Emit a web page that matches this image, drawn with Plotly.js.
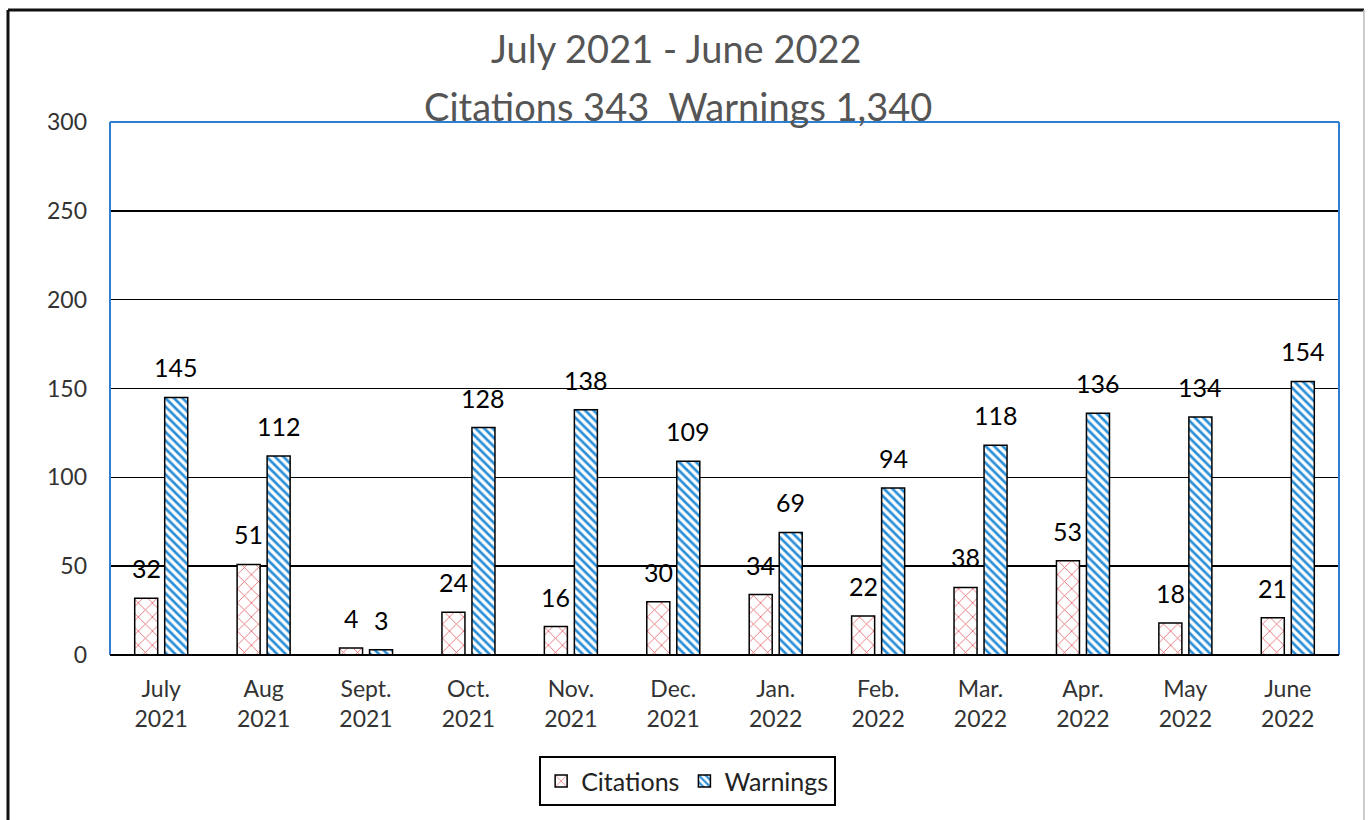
<!DOCTYPE html>
<html>
<head>
<meta charset="utf-8">
<script src="https://cdn.plot.ly/plotly-3.0.1.min.js"></script>
<style>html,body{margin:0;padding:0;background:#fff;}#chart{width:1369px;height:820px;}</style>
</head>
<body>
<div id="chart"></div>
<script>
const categories = ["July<br>2021","Aug<br>2021","Sept.<br>2021","Oct.<br>2021","Nov.<br>2021","Dec.<br>2021","Jan.<br>2022","Feb.<br>2022","Mar.<br>2022","Apr.<br>2022","May<br>2022","June<br>2022"];
const citations = [32,51,4,24,16,30,34,22,38,53,18,21];
const warnings = [145,112,3,128,138,109,69,94,118,136,134,154];
const titleLine1 = "July 2021 - June 2022";
const titleLine2 = "Citations 343  Warnings 1,340";

const FONT = "Lato, 'Open Sans', sans-serif";

const traces = [
  {
    type: "bar", name: "Citations", x: categories, y: citations,
    marker: {color: "#ffffff", line: {color: "#000", width: 1.5},
      pattern: {shape: "x", fgcolor: "#e4646c", bgcolor: "#ffffff", size: 10, solidity: 0.16}},
    hoverinfo: "skip"
  },
  {
    type: "bar", name: "Warnings", x: categories, y: warnings,
    marker: {color: "#ffffff", line: {color: "#000", width: 1.5},
      pattern: {shape: "\\", fgcolor: "#2b8fd8", bgcolor: "#ffffff", size: 6, solidity: 0.45}},
    hoverinfo: "skip"
  }
];

const annotations = [];
categories.forEach((c, i) => {
  annotations.push({x: c, y: citations[i], xref: "x", yref: "y", text: String(citations[i]), showarrow: false,
    xshift: -15, yshift: 13, yanchor: "bottom", font: {family: FONT, size: 25, color: "#000"}});
  annotations.push({x: c, y: warnings[i], xref: "x", yref: "y", text: String(warnings[i]), showarrow: false,
    xshift: 15, yshift: 13, yanchor: "bottom", font: {family: FONT, size: 25, color: "#000"}});
});
annotations.push({text: titleLine2, xref: "paper", yref: "paper", x: 0.462, y: 1.03, yanchor: "middle",
  showarrow: false, font: {family: FONT, size: 38, color: "#555555"}});

const blue = "#2f7fd0";
const shapes = [
  {type: "line", xref: "paper", yref: "paper", x0: 0, x1: 1, y0: 1, y1: 1, line: {color: blue, width: 2}},
  {type: "line", xref: "paper", yref: "paper", x0: 0, x1: 0, y0: 0, y1: 1, line: {color: blue, width: 2}},
  {type: "line", xref: "paper", yref: "paper", x0: 1, x1: 1, y0: 0, y1: 1, line: {color: blue, width: 2}},
  {type: "line", xref: "paper", yref: "paper", x0: 0, x1: 1, y0: 0, y1: 0, line: {color: "#000", width: 2}},
  // outer frame
  {type: "line", xref: "paper", yref: "paper", x0: -0.083, x1: 1.0203, y0: 1.21, y1: 1.21, line: {color: "#111", width: 3}},
  {type: "line", xref: "paper", yref: "paper", x0: -0.083, x1: -0.083, y0: 1.21, y1: -0.4, line: {color: "#111", width: 3}},
  {type: "line", xref: "paper", yref: "paper", x0: 1.0203, x1: 1.0203, y0: 1.21, y1: -0.4, line: {color: "#bbbbbb", width: 1.5}}
];

const layout = {
  width: 1369, height: 820,
  margin: {l: 110, r: 30, t: 122, b: 165},
  paper_bgcolor: "#fff", plot_bgcolor: "#fff",
  font: {family: FONT, color: "#333"},
  title: {text: titleLine1, xref: "container", yref: "container", x: 0.494, xanchor: "center",
    y: 1 - 50/820, yanchor: "middle", font: {family: FONT, size: 38, color: "#555555"}},
  barmode: "group", bargap: 0.414, bargroupgap: 0.233,
  xaxis: {type: "category", showgrid: false, showline: false, ticks: "", tickfont: {family: FONT, size: 23, color: "#333"},
    ticklabelstandoff: 18, fixedrange: true},
  yaxis: {range: [0, 300], dtick: 50, showgrid: true, gridcolor: "#000", gridwidth: 1.5, zeroline: false,
    showline: false, ticks: "", tickfont: {family: FONT, size: 23, color: "#333"}, ticklabelstandoff: 22, fixedrange: true},
  showlegend: true,
  legend: {orientation: "h", x: 0.47, xanchor: "center", y: -0.19, yanchor: "top",
    bordercolor: "#000", borderwidth: 2, bgcolor: "#fff", font: {family: FONT, size: 25, color: "#222"},
    itemwidth: 30},
  annotations: annotations,
  shapes: shapes
};

Plotly.newPlot("chart", traces, layout, {displayModeBar: false, staticPlot: true});
</script>
</body>
</html>
